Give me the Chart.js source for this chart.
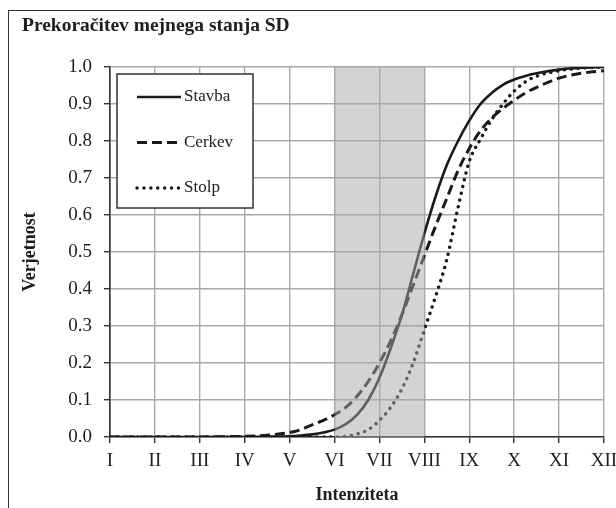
<!DOCTYPE html>
<html>
<head>
<meta charset="utf-8">
<script src="https://cdn.jsdelivr.net/npm/chart.js@4.4.1/dist/chart.umd.min.js"></script>
<style>
    html, body { margin: 0; padding: 0; background: #fff; overflow: hidden; }
    #okvir { position: absolute; left: 8px; top: 10px; width: 700px; height: 600px; border: 1.5px solid #333; }
    #wrap { position: absolute; left: 0; top: 0; width: 616px; height: 508px; }
</style>
</head>
<body>
<div id="okvir"></div>
<div id="wrap"><canvas id="graf" width="616" height="508"></canvas></div>
<script>
// Intenziteta (EMS lestvica) in verjetnosti prekoračitve mejnega stanja SD
const intenzitete = [1, 2, 3, 3.5, 4, 4.5, 5, 5.25, 5.5, 5.75, 6, 6.25, 6.5, 6.75, 7, 7.25, 7.5, 7.75, 8, 8.25, 8.5, 8.75, 9, 9.25, 9.5, 9.75, 10, 10.25, 10.5, 11, 11.5, 12];
const stavba = [0, 0, 0, 0, 0, 0.001, 0.002, 0.004, 0.007, 0.012, 0.02, 0.035, 0.06, 0.1, 0.16, 0.24, 0.33, 0.44, 0.55, 0.65, 0.735, 0.8, 0.855, 0.9, 0.93, 0.952, 0.966, 0.976, 0.983, 0.993, 0.998, 1.0];
const cerkev = [0, 0, 0, 0.001, 0.002, 0.005, 0.012, 0.02, 0.033, 0.045, 0.06, 0.08, 0.11, 0.15, 0.2, 0.26, 0.33, 0.41, 0.49, 0.57, 0.645, 0.72, 0.78, 0.828, 0.862, 0.888, 0.91, 0.93, 0.945, 0.97, 0.983, 0.99];
const stolp = [0, 0, 0, 0, 0, 0, 0, 0, 0, 0, 0, 0.002, 0.008, 0.02, 0.045, 0.08, 0.13, 0.2, 0.29, 0.38, 0.48, 0.62, 0.745, 0.805, 0.858, 0.9, 0.935, 0.96, 0.975, 0.99, 0.997, 1.0];
const rimske = ['I', 'II', 'III', 'IV', 'V', 'VI', 'VII', 'VIII', 'IX', 'X', 'XI', 'XII'];
const oznakeY = [0, 0.1, 0.2, 0.3, 0.4, 0.5, 0.6, 0.7, 0.8, 0.9, 1.0];
const pas = [6, 8]; // osenčen interval VI - VIII

const pisava = '"Liberation Serif", "Times New Roman", serif';
const crna = '#1a1a1a';

function tocke(vrednosti) {
    return intenzitete.map((x, i) => ({ x: x, y: vrednosti[i] }));
}

// osenčen pas (poltransparenten, čez krivulje)
const pasPlugin = {
    id: 'pas',
    afterDatasetsDraw(chart) {
        const { ctx, chartArea, scales } = chart;
        const x1 = scales.x.getPixelForValue(pas[0]);
        const x2 = scales.x.getPixelForValue(pas[1]);
        ctx.save();
        ctx.fillStyle = 'rgba(168, 168, 168, 0.5)';
        ctx.fillRect(x1, chartArea.top, x2 - x1, chartArea.bottom - chartArea.top);
        ctx.restore();
    }
};

// naslov in legenda
const okrasjePlugin = {
    id: 'okrasje',
    afterDraw(chart) {
        const { ctx, chartArea } = chart;
        ctx.save();
        ctx.fillStyle = '#1e1e1e';
        ctx.font = 'bold 19.5px ' + pisava;
        ctx.textBaseline = 'alphabetic';
        ctx.textAlign = 'left';
        ctx.fillText('Prekoračitev mejnega stanja SD', 22, 31);

        // legenda
        const lx = chartArea.left + 7;
        const ly = chartArea.top + 7;
        const lw = 136, lh = 134;
        ctx.fillStyle = '#fff';
        ctx.fillRect(lx, ly, lw, lh);
        ctx.strokeStyle = '#333';
        ctx.lineWidth = 1.5;
        ctx.strokeRect(lx, ly, lw, lh);

        ctx.font = '17px ' + pisava;
        ctx.textBaseline = 'middle';
        chart.data.datasets.forEach((ds, i) => {
            const y = ly + 23 + i * 45.5;
            ctx.beginPath();
            ctx.setLineDash(ds.borderDash || []);
            ctx.lineCap = ds.borderCapStyle || 'butt';
            ctx.lineWidth = ds.borderWidth;
            ctx.strokeStyle = ds.borderColor;
            ctx.moveTo(lx + 20, y);
            ctx.lineTo(lx + 64, y);
            ctx.stroke();
            ctx.setLineDash([]);
            ctx.fillStyle = '#222';
            ctx.fillText(ds.label, lx + 67, y);
        });
        ctx.restore();
    }
};

const ctx = document.getElementById('graf').getContext('2d');
new Chart(ctx, {
    type: 'line',
    data: {
        datasets: [
            {
                label: 'Stavba',
                data: tocke(stavba),
                borderColor: crna,
                borderWidth: 2.6,
                pointRadius: 0,
                cubicInterpolationMode: 'monotone'
            },
            {
                label: 'Cerkev',
                data: tocke(cerkev),
                borderColor: crna,
                borderWidth: 3,
                borderDash: [10, 5],
                pointRadius: 0,
                cubicInterpolationMode: 'monotone'
            },
            {
                label: 'Stolp',
                data: tocke(stolp),
                borderColor: crna,
                borderWidth: 3.4,
                borderDash: [0.1, 6.8],
                borderCapStyle: 'round',
                pointRadius: 0,
                cubicInterpolationMode: 'monotone'
            }
        ]
    },
    options: {
        responsive: false,
        animation: false,
        devicePixelRatio: 1,
        layout: { padding: { left: 20, top: 67, right: 0, bottom: 0 } },
        plugins: {
            legend: { display: false },
            tooltip: { enabled: false }
        },
        scales: {
            x: {
                type: 'linear',
                min: 1,
                max: 12,
                afterBuildTicks: (scale) => {
                    scale.ticks = rimske.map((_, i) => ({ value: i + 1 }));
                },
                afterFit: (scale) => {
                    scale.height = 71;
                    scale.paddingRight = 12;
                    scale.paddingLeft = 0;
                },
                ticks: {
                    autoSkip: false,
                    maxRotation: 0,
                    padding: 7,
                    color: '#1e1e1e',
                    font: { family: pisava, size: 19 },
                    callback: (v) => rimske[Math.round(v) - 1]
                },
                grid: {
                    color: '#aea8a5',
                    lineWidth: 1.4,
                    tickLength: 6,
                    tickColor: '#333'
                },
                border: { color: '#333', width: 1.6 },
                title: {
                    display: true,
                    text: 'Intenziteta',
                    color: '#1e1e1e',
                    font: { family: pisava, size: 18, weight: 'bold' },
                    padding: { top: 0, bottom: 2 }
                }
            },
            y: {
                min: 0,
                max: 1,
                afterBuildTicks: (scale) => {
                    scale.ticks = oznakeY.map(v => ({ value: v }));
                },
                afterFit: (scale) => {
                    scale.width = 90;
                },
                ticks: {
                    padding: 12,
                    color: '#1e1e1e',
                    font: { family: pisava, size: 19 },
                    callback: (v) => v.toFixed(1)
                },
                grid: {
                    color: '#aea8a5',
                    lineWidth: 1.4,
                    tickLength: 6,
                    tickColor: '#333'
                },
                border: { color: '#333', width: 1.6 },
                title: {
                    display: true,
                    text: 'Verjetnost',
                    color: '#1e1e1e',
                    font: { family: pisava, size: 18, weight: 'bold' },
                    padding: { top: 0, bottom: 0 }
                }
            }
        }
    },
    plugins: [pasPlugin, okrasjePlugin]
});
</script>
</body>
</html>
